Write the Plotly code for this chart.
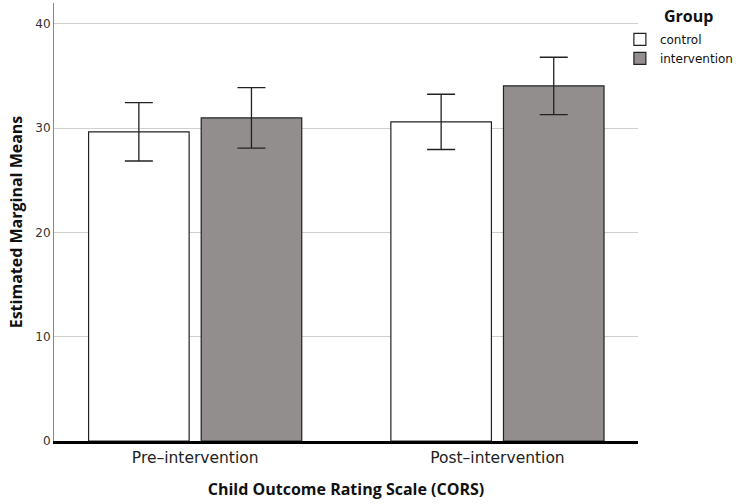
import plotly.graph_objects as go

categories = ["Pre–intervention", "Post–intervention"]
groups = ["control", "intervention"]
control_means = [29.65, 30.6]
control_err = [2.8, 2.65]
intervention_means = [30.98, 34.05]
intervention_err = [2.9, 2.75]
y_ticks = [0, 10, 20, 30, 40]

colors = {"control": "#ffffff", "intervention": "#928e8d"}

fig = go.Figure()
for name, means, errs in [("control", control_means, control_err),
                          ("intervention", intervention_means, intervention_err)]:
    fig.add_trace(go.Bar(
        x=categories, y=means, name=name,
        marker=dict(color=colors[name], line=dict(color="#222222", width=1.2)),
        error_y=dict(type="data", array=errs, visible=True, color="#222222",
                     thickness=1.3, width=14),
    ))

fig.add_annotation(
    text="<b>Group</b>", xref="paper", yref="paper", x=1.0, y=1.0,
    xanchor="left", yanchor="top", xshift=24, yshift=0, showarrow=False,
    font=dict(family="Open Sans", size=16, color="#111"),
)

fig.update_layout(
    width=739, height=504,
    margin=dict(l=54, r=101, t=3, b=63, autoexpand=False),
    plot_bgcolor="white", paper_bgcolor="white",
    barmode="group", bargap=0.255, bargroupgap=0.107,
    font=dict(family="DejaVu Sans", color="#222222"),
    legend=dict(
        x=0.969, y=0.95, xanchor="left", yanchor="top",
        font=dict(family="DejaVu Sans", size=12, color="#111"),
        tracegroupgap=0, itemwidth=30, bgcolor="rgba(0,0,0,0)",
    ),
    xaxis=dict(
        range=[-0.467, 1.465], showline=True, linecolor="black", linewidth=3,
        ticks="", tickfont=dict(size=15.5, color="#222"),
        title=dict(text="<b>Child Outcome Rating Scale (CORS)</b>",
                   font=dict(family="Open Sans", size=16, color="#111"), standoff=19),
    ),
    yaxis=dict(
        range=[0, 42], tickvals=y_ticks, showgrid=True, gridcolor="#cfcfcf",
        gridwidth=1, zeroline=False, showline=True, linecolor="#888888", linewidth=1,
        ticks="", tickfont=dict(size=12, color="#333"),
        title=dict(text="<b>Estimated Marginal Means</b>",
                   font=dict(family="Open Sans", size=16, color="#111"), standoff=8),
    ),
)

fig.write_html("out.html", config={"displayModeBar": False},
               post_script="document.body.style.margin='0';")
